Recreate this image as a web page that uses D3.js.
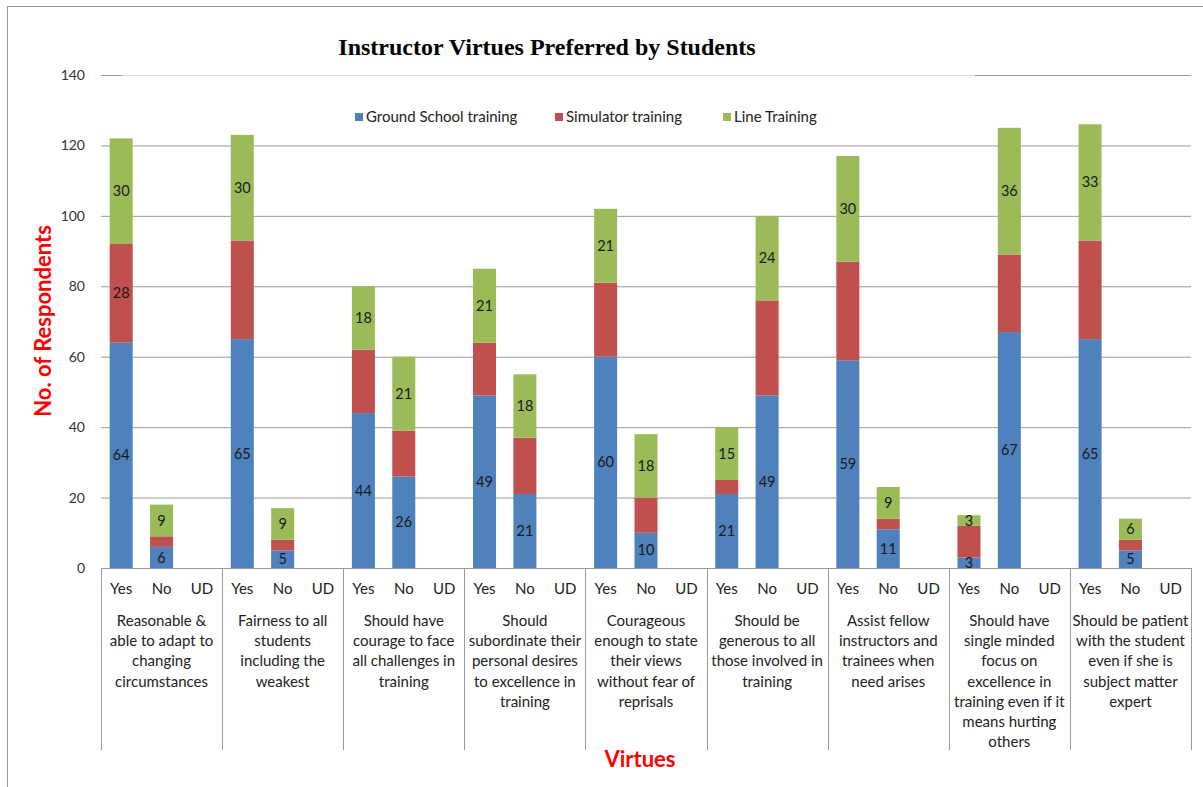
<!DOCTYPE html>
<html>
<head>
<meta charset="utf-8">
<script src="https://cdn.jsdelivr.net/npm/d3@7"></script>
<style>
  body { margin: 0; background: #fff; }
  svg { display: block; }
</style>
</head>
<body>
<svg id="chart"></svg>
<script>
const width = 1203;
const height = 787;

// Virtues (groups) and answers within each group
const virtues = [
  "Reasonable &\nable to adapt to\nchanging\ncircumstances",
  "Fairness to all\nstudents\nincluding the\nweakest",
  "Should have\ncourage to face\nall challenges in\ntraining",
  "Should\nsubordinate their\npersonal desires\nto excellence in\ntraining",
  "Courageous\nenough to state\ntheir views\nwithout fear of\nreprisals",
  "Should be\ngenerous to all\nthose involved in\ntraining",
  "Assist fellow\ninstructors and\ntrainees when\nneed arises",
  "Should have\nsingle minded\nfocus on\nexcellence in\ntraining even if it\nmeans hurting\nothers",
  "Should be patient\nwith the student\neven if she is\nsubject matter\nexpert"
];
const answers = ["Yes", "No", "UD"];

// values per virtue: [Yes, No, UD]
const groundSchool = [64, 6, 0, 65, 5, 0, 44, 26, 0, 49, 21, 0, 60, 10, 0, 21, 49, 0, 59, 11, 0, 3, 67, 0, 65, 5, 0];
const simulator    = [28, 3, 0, 28, 3, 0, 18, 13, 0, 15, 16, 0, 21, 10, 0, 4, 27, 0, 28, 3, 0, 9, 22, 0, 28, 3, 0];
const lineTraining = [30, 9, 0, 30, 9, 0, 18, 21, 0, 21, 18, 0, 21, 18, 0, 15, 24, 0, 30, 9, 0, 3, 36, 0, 33, 6, 0];

// only this simulator value carries a data label in the original
const simulatorLabelled = ["0|Yes"];

const yTicks = [0, 20, 40, 60, 80, 100, 120, 140];

const series = [
  { key: "ground", name: "Ground School training", color: "#4F81BD" },
  { key: "simulator", name: "Simulator training", color: "#C0504D" },
  { key: "line", name: "Line Training", color: "#9BBB59" }
];

const rows = [];
virtues.forEach((v, g) => {
  answers.forEach((a, j) => {
    const i = g * 3 + j;
    rows.push({ id: g + "|" + a, group: g, answer: a,
      ground: groundSchool[i], simulator: simulator[i], line: lineTraining[i] });
  });
});

const plot = { left: 101, right: 1191, top: 75, bottom: 568 };

const svg = d3.select("#chart").attr("width", width).attr("height", height);
const font = "Lato, 'Open Sans', sans-serif";

// outer chart border
svg.append("rect")
  .attr("x", 7.5).attr("y", 6.5)
  .attr("width", width).attr("height", height)
  .attr("fill", "none").attr("stroke", "#999").attr("stroke-width", 1);

const x = d3.scaleBand()
  .domain(rows.map(d => d.id))
  .range([plot.left, plot.right])
  .paddingInner(0.43)
  .paddingOuter(0.215);

const xGroup = d3.scaleBand()
  .domain(d3.range(virtues.length))
  .range([plot.left, plot.right]);

const y = d3.scaleLinear().domain([0, 140]).range([plot.bottom, plot.top]);

// gridlines + tick labels
const yAxis = svg.append("g")
  .attr("transform", `translate(${plot.left},0)`)
  .call(d3.axisLeft(y).tickValues(yTicks).tickSize(-(plot.right - plot.left)).tickPadding(16));
yAxis.select(".domain").remove();
yAxis.selectAll(".tick line").attr("stroke", "#9a9a9a").attr("stroke-width", 1);
yAxis.selectAll(".tick text")
  .attr("font-family", font).attr("font-size", 14).attr("fill", "#333");

// title box lightens the top gridline behind it
svg.append("rect")
  .attr("x", 122).attr("y", 25).attr("width", 853).attr("height", 51)
  .attr("fill", "#fff").attr("fill-opacity", 0.65);

svg.append("text")
  .attr("x", 547).attr("y", 55)
  .attr("text-anchor", "middle")
  .attr("font-family", "'Liberation Serif', 'Times New Roman', serif")
  .attr("font-weight", "bold").attr("font-size", 24).attr("fill", "#000")
  .text("Instructor Virtues Preferred by Students");

// stacked bars
const stacked = d3.stack().keys(series.map(s => s.key))(rows);
const color = d3.scaleOrdinal().domain(series.map(s => s.key)).range(series.map(s => s.color));

const layers = svg.append("g").selectAll("g")
  .data(stacked).join("g")
  .attr("fill", d => color(d.key));

layers.selectAll("rect")
  .data(d => d.filter(p => p[1] > p[0]))
  .join("rect")
  .attr("x", p => x(p.data.id))
  .attr("width", x.bandwidth())
  .attr("y", p => y(p[1]))
  .attr("height", p => y(p[0]) - y(p[1]));

// data labels
const labels = [];
stacked.forEach(layer => {
  layer.forEach(p => {
    const v = p[1] - p[0];
    if (v <= 0) return;
    if (layer.key === "simulator" && !simulatorLabelled.includes(p.data.id)) return;
    labels.push({ x: x(p.data.id) + x.bandwidth() / 2, y: (y(p[0]) + y(p[1])) / 2, v });
  });
});
svg.append("g").selectAll("text")
  .data(labels).join("text")
  .attr("x", d => d.x).attr("y", d => d.y)
  .attr("dy", "0.35em")
  .attr("text-anchor", "middle")
  .attr("font-family", font).attr("font-size", 14.5).attr("fill", "#1a1a1a")
  .text(d => d.v);

// x axis line and group separators
svg.append("line")
  .attr("x1", plot.left).attr("x2", plot.right)
  .attr("y1", plot.bottom + 0.5).attr("y2", plot.bottom + 0.5)
  .attr("stroke", "#9a9a9a");

const seps = xGroup.domain().map(g => xGroup(g)).concat([plot.right]);
svg.append("g").selectAll("line")
  .data(seps).join("line")
  .attr("x1", d => Math.round(d) + 0.5).attr("x2", d => Math.round(d) + 0.5)
  .attr("y1", plot.bottom).attr("y2", 750)
  .attr("stroke", "#9a9a9a");

// Yes / No / UD labels
svg.append("g").selectAll("text")
  .data(rows).join("text")
  .attr("x", d => x(d.id) + x.bandwidth() / 2)
  .attr("y", 594)
  .attr("text-anchor", "middle")
  .attr("font-family", font).attr("font-size", 15).attr("fill", "#222")
  .text(d => d.answer);

// virtue labels
const vg = svg.append("g").selectAll("text")
  .data(virtues).join("text")
  .attr("x", (d, i) => xGroup(i) + xGroup.bandwidth() / 2)
  .attr("y", 626)
  .attr("text-anchor", "middle")
  .attr("font-family", font).attr("font-size", 15).attr("fill", "#222");
vg.selectAll("tspan")
  .data(d => d.split("\n")).join("tspan")
  .attr("x", function () { return this.parentNode.getAttribute("x"); })
  .attr("dy", (d, i) => i === 0 ? 0 : 20.2)
  .text(d => d);

// axis titles
svg.append("text")
  .attr("x", 640).attr("y", 767)
  .attr("text-anchor", "middle")
  .attr("font-family", font).attr("font-weight", "bold").attr("font-size", 22)
  .attr("fill", "#ff0000")
  .text("Virtues");

svg.append("text")
  .attr("transform", "translate(51,321) rotate(-90)")
  .attr("text-anchor", "middle")
  .attr("font-family", font).attr("font-weight", "bold").attr("font-size", 22)
  .attr("fill", "#ff0000")
  .text("No. of Respondents");

// legend
const legendX = [355, 555, 723];
const legend = svg.append("g").selectAll("g")
  .data(series).join("g")
  .attr("transform", (d, i) => `translate(${legendX[i]},117)`);
legend.append("rect")
  .attr("x", 0).attr("y", -4).attr("width", 8).attr("height", 8)
  .attr("fill", d => d.color);
legend.append("text")
  .attr("x", 11).attr("y", 0).attr("dy", "0.35em")
  .attr("font-family", font).attr("font-size", 15).attr("fill", "#222")
  .text(d => d.name);
</script>
</body>
</html>
